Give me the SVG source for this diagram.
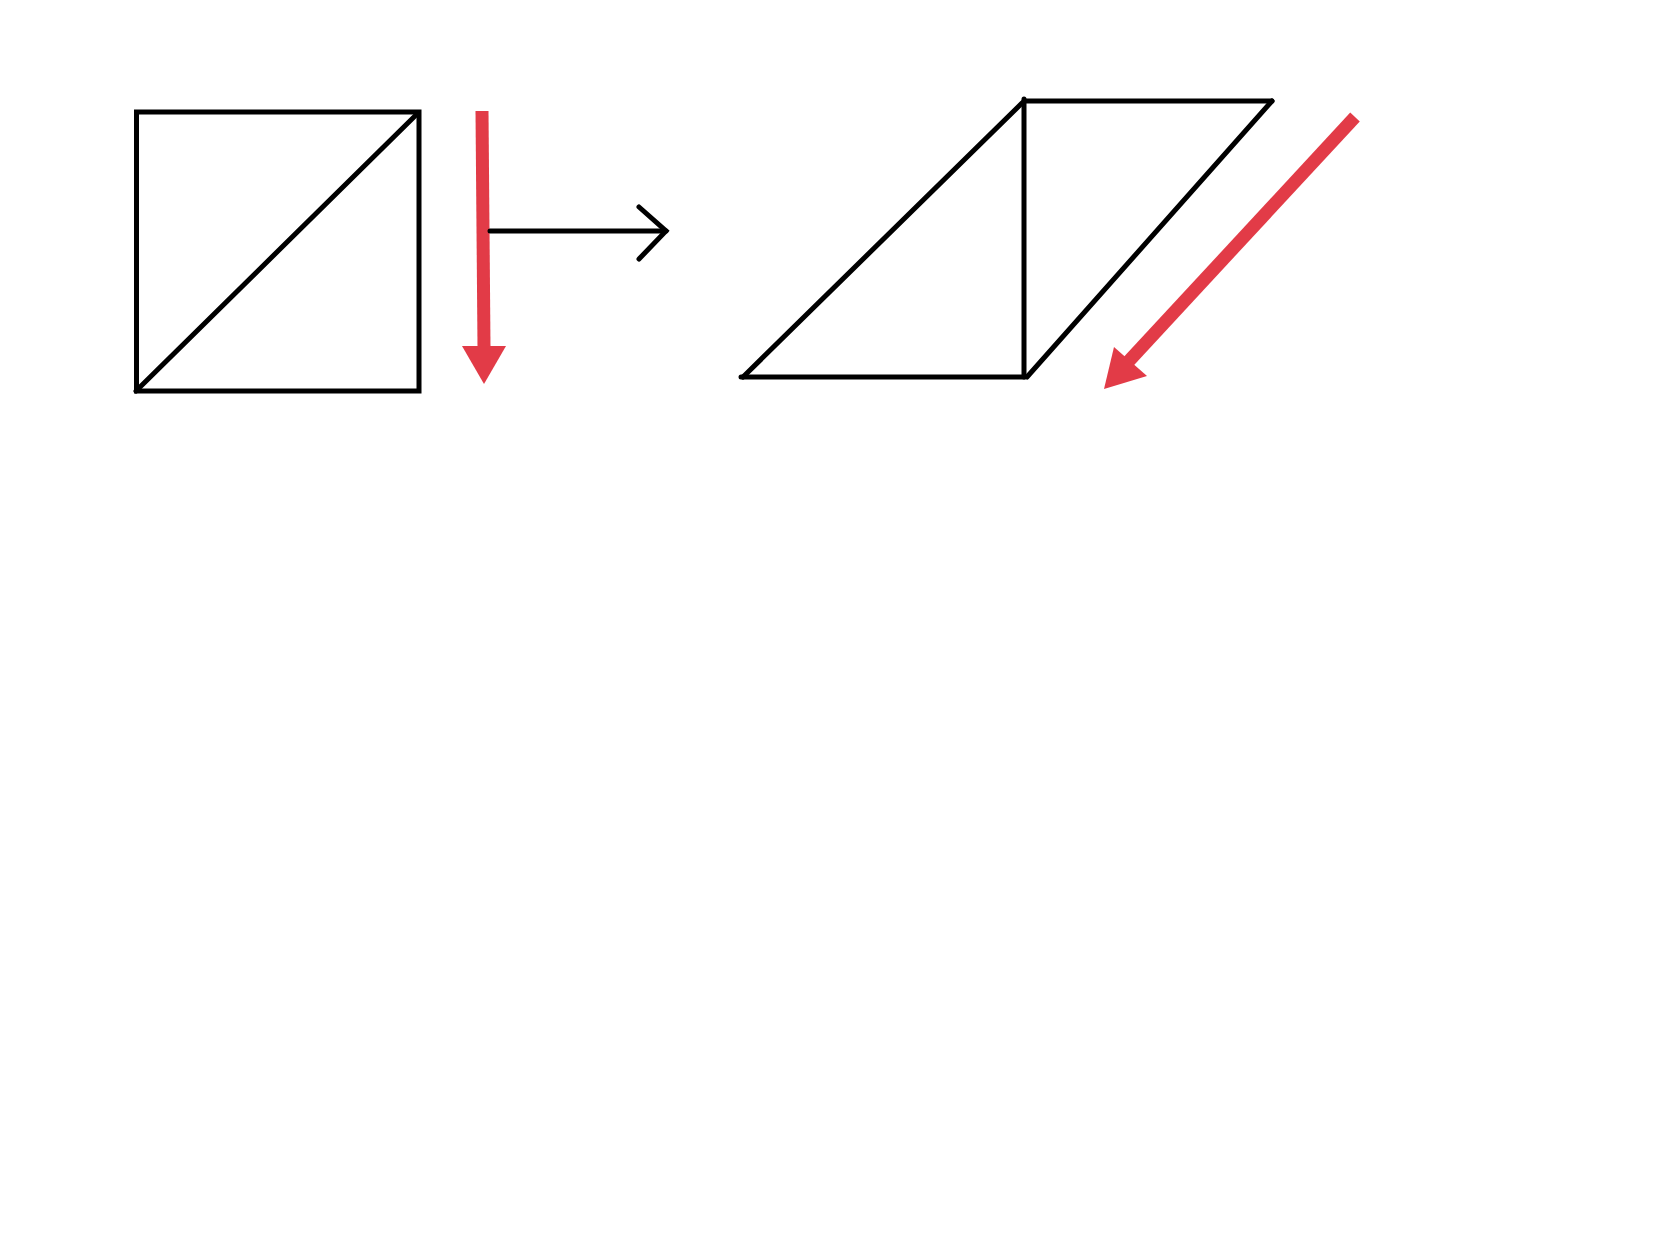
<svg xmlns="http://www.w3.org/2000/svg" width="1664" height="1248" viewBox="0 0 1664 1248">
<style>
.blk{fill:none;stroke:#000;stroke-width:5;stroke-linecap:round;stroke-linejoin:miter}
.red{stroke:#e23b47;stroke-width:13;fill:none}
.redf{fill:#e23b47;stroke:none}
</style>
<rect width="1664" height="1248" fill="#fff"/>
<g id="square">
<rect class="blk" x="136.5" y="112" width="282.5" height="279"/>
<line class="blk" x1="136" y1="391" x2="417" y2="114"/>
</g>
<g id="parallelogram">
<line class="blk" x1="741" y1="377" x2="1025" y2="377"/>
<line class="blk" x1="743" y1="377" x2="1022" y2="103"/>
<line class="blk" x1="1024" y1="99" x2="1024" y2="377"/>
<line class="blk" x1="1024" y1="101" x2="1272" y2="101"/>
<line class="blk" x1="1272" y1="101" x2="1027" y2="377"/>
</g>
<g id="connectors">
<g id="red-down">
<line class="red" x1="482" y1="111" x2="484" y2="347"/>
<polygon class="redf" points="462,346 506,346 484,384"/>
</g>
<g id="maps-to">
<line class="blk" x1="490" y1="231" x2="666" y2="231"/>
<polyline class="blk" points="639,207 666,231 639,259"/>
</g>
<g id="red-diag">
<line class="red" x1="1355" y1="117" x2="1128" y2="362"/>
<polygon class="redf" points="1114,347 1147,376 1104,389"/>
</g>
</g>
</svg>
